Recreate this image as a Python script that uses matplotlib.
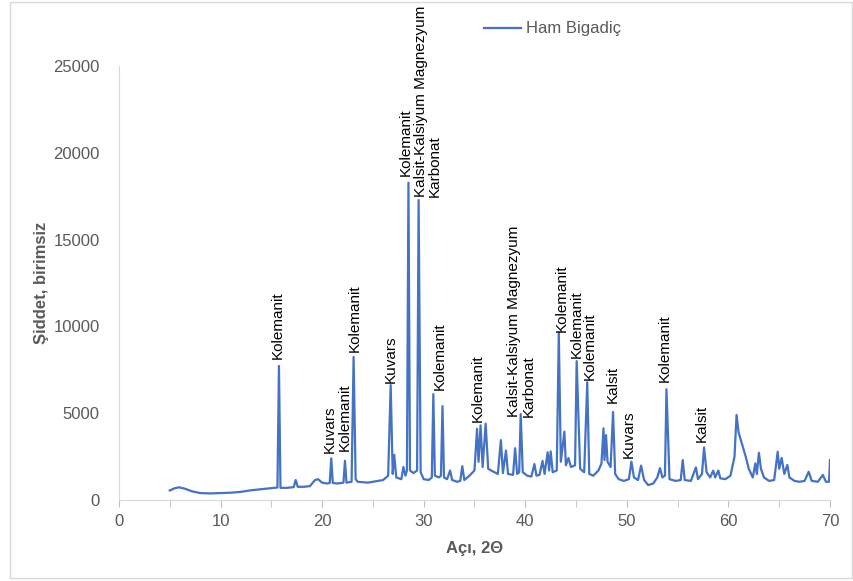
import matplotlib
matplotlib.use("Agg")
import matplotlib.pyplot as plt
from matplotlib.patches import Rectangle

plt.rcParams['font.family'] = ['Liberation Sans', 'DejaVu Sans']

# XRD deseni: açı (2θ) ve şiddet, resimden okunan noktalar
aci = [5.0, 5.5, 5.9, 6.5, 7.2, 8.0, 9.0, 10.0, 11.0, 12.0, 13.0, 14.0, 15.0,
       15.6, 15.75, 15.9, 16.5, 17.2, 17.4, 17.6, 18.2, 18.8, 19.3, 19.6, 20.0,
       20.5, 20.75, 20.9, 21.05, 21.5, 22.1, 22.25, 22.4, 22.9, 23.1, 23.3, 23.5,
       24.5, 25.0, 25.5, 26.0, 26.5, 26.75, 26.95, 27.1, 27.3, 27.8, 28.0, 28.2,
       28.35, 28.5, 28.65, 29.0, 29.35, 29.5, 29.7, 30.0, 30.5, 30.8, 30.95, 31.1,
       31.5, 31.7, 31.85, 32.0, 32.3, 32.6, 32.8, 33.3, 33.6, 33.8, 34.0, 34.5,
       35.0, 35.25, 35.4, 35.6, 35.8, 36.1, 36.35, 36.8, 37.3, 37.6, 37.8, 38.1,
       38.3, 38.8, 39.0, 39.2, 39.4, 39.55, 39.75, 40.2, 40.6, 40.9, 41.1, 41.4,
       41.7, 41.9, 42.2, 42.35, 42.5, 42.7, 43.1, 43.3, 43.5, 43.85, 44.0, 44.25,
       44.5, 44.9, 45.06, 45.2, 45.4, 45.8, 46.1, 46.3, 46.7, 47.2, 47.5, 47.7,
       47.8, 47.95, 48.1, 48.4, 48.64, 48.85, 49.2, 49.7, 50.2, 50.45, 50.7, 51.1,
       51.4, 51.7, 52.1, 52.6, 53.0, 53.26, 53.5, 53.75, 53.9, 54.05, 54.2, 54.8,
       55.3, 55.5, 55.7, 56.3, 56.8, 57.0, 57.4, 57.6, 57.85, 58.2, 58.5, 58.7,
       59.0, 59.2, 59.7, 60.2, 60.6, 60.8, 61.0, 61.3, 61.7, 62.0, 62.4, 62.65,
       62.8, 63.0, 63.2, 63.5, 64.0, 64.5, 64.85, 65.0, 65.24, 65.5, 65.8, 66.0,
       66.5, 67.0, 67.5, 67.9, 68.2, 68.8, 69.3, 69.6, 69.9, 70.0]
siddet = [550, 680, 730, 650, 500, 400, 380, 400, 420, 470, 560, 620, 680,
          720, 7720, 700, 700, 740, 1150, 760, 760, 800, 1150, 1200, 1000,
          950, 980, 2400, 980, 950, 1000, 2260, 1000, 1050, 8240, 1200, 1050,
          1000, 1050, 1100, 1150, 1400, 6620, 1500, 2600, 1300, 1200, 1900, 1400,
          1700, 18280, 1700, 1550, 1700, 17280, 1600, 1200, 1150, 1300, 6100, 1400,
          1300, 1400, 5410, 1300, 1200, 1700, 1150, 1050, 1100, 1950, 1150, 1400,
          1700, 4100, 2200, 4300, 1900, 4400, 1800, 1650, 1500, 3450, 1550, 2850,
          1500, 1450, 2980, 1500, 1600, 4950, 1600, 1400, 1350, 2070, 1400, 1450,
          2250, 1500, 2750, 1700, 2800, 1600, 1700, 9640, 2200, 3940, 2000, 2420,
          1900, 2000, 8000, 5500, 1800, 1600, 6780, 1500, 1400, 1700, 2100, 4130,
          2300, 3740, 2200, 1900, 5070, 1500, 1200, 1100, 1200, 2210, 1300, 1150,
          1980, 1150, 860, 950, 1300, 1840, 1300, 1400, 6380, 3700, 1200, 1100,
          1150, 2300, 1150, 1100, 1880, 1200, 1500, 3030, 1600, 1300, 1690, 1300,
          1700, 1250, 1200, 1400, 2500, 4900, 3900, 3300, 2500, 1800, 1300, 2110,
          1500, 2720, 1800, 1300, 1100, 1150, 2780, 1800, 2420, 1500, 2020, 1300,
          1100, 1050, 1100, 1630, 1100, 1050, 1440, 1050, 1050, 2300]

# pik etiketleri: (açı, şiddet, metin)
etiketler = [
    (15.68, 8120, "Kolemanit"),
    (20.77, 2720, "Kuvars"),
    (22.2, 2840, "Kolemanit"),
    (23.24, 8525, "Kolemanit"),
    (26.73, 6740, "Kuvars"),
    (28.2, 18660, "Kolemanit"),
    (30.42, 17450, "Kalsit-Kalsiyum Magnezyum\nKarbonat"),
    (31.6, 6340, "Kolemanit"),
    (35.3, 4510, "Kolemanit"),
    (39.65, 4780, "Kalsit-Kalsiyum Magnezyum\nKarbonat"),
    (43.55, 9700, "Kolemanit"),
    (45.1, 8200, "Kolemanit"),
    (46.37, 6910, "Kolemanit"),
    (48.64, 5570, "Kalsit"),
    (50.15, 2400, "Kuvars"),
    (53.7, 6810, "Kolemanit"),
    (57.37, 3360, "Kalsit"),
]

gri = '#595959'
fig = plt.figure(figsize=(8.54, 5.81), dpi=100)
fig.patches.append(Rectangle((10 / 854, 3 / 581), 842 / 854, 576 / 581,
                             transform=fig.transFigure, fill=False,
                             edgecolor='#D9D9D9', linewidth=1))
ax = fig.add_axes([0.1393, 0.1394, 0.8326, 0.747])

ax.plot(aci, siddet, color='#4472C4', linewidth=1.6, label='Ham Bigadiç')

for x, y, t in etiketler:
    ax.text(x, y, t, rotation=90, ha='center', va='bottom', fontsize=11,
            color='black', linespacing=1.05, multialignment='left')

ax.set_xlim(0, 70)
ax.set_ylim(0, 25000)
ax.set_xticks(range(0, 71, 10))
ax.set_xticks(range(0, 71, 5), minor=True)
ax.set_yticks(range(0, 25001, 5000))
ax.tick_params(axis='x', which='both', length=5, color='#BFBFBF', colors=gri,
               labelsize=12, pad=5)
ax.tick_params(axis='x', which='minor', length=5, color='#BFBFBF')
ax.tick_params(axis='y', length=0, colors=gri, labelsize=12, pad=14)
for s in ['top', 'right']:
    ax.spines[s].set_visible(False)
for s in ['left', 'bottom']:
    ax.spines[s].set_color('#D9D9D9')

ax.set_xlabel('Açı, 2Θ', fontsize=12, fontweight='bold', color=gri, labelpad=9)
ax.set_ylabel('Şiddet, birimsiz', fontsize=12, fontweight='bold', color=gri,
              labelpad=3)

fig.legend(loc='center left', bbox_to_anchor=(484 / 854, 1 - 29 / 581),
           frameon=False, borderpad=0, borderaxespad=0, fontsize=12,
           labelcolor=gri, handlelength=2.2, handletextpad=0.3)

fig.savefig('out.png', dpi=100)
